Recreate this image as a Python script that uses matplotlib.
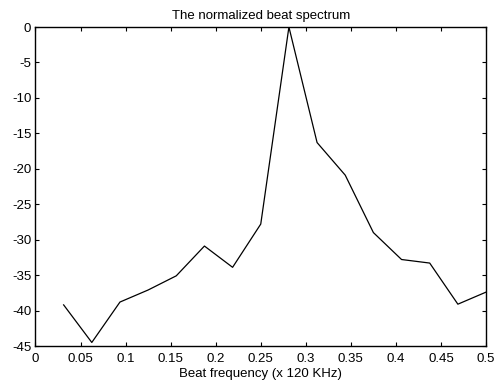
import matplotlib
matplotlib.use("Agg")
import matplotlib.pyplot as plt

x_vals = [0.03125, 0.0625, 0.09375, 0.125, 0.15625, 0.1875, 0.21875, 0.25,
          0.28125, 0.3125, 0.34375, 0.375, 0.40625, 0.4375, 0.46875, 0.5]
y_vals = [-39.2, -44.5, -38.8, -37.1, -35.1, -30.9, -33.9, -27.8,
          0.0, -16.3, -20.9, -29.0, -32.8, -33.3, -39.1, -37.4]
x_ticks = [0, 0.05, 0.1, 0.15, 0.2, 0.25, 0.3, 0.35, 0.4, 0.45, 0.5]
x_tick_labels = ["0", "0.05", "0.1", "0.15", "0.2", "0.25", "0.3", "0.35", "0.4", "0.45", "0.5"]
y_ticks = [-45, -40, -35, -30, -25, -20, -15, -10, -5, 0]
y_tick_labels = ["-45", "-40", "-35", "-30", "-25", "-20", "-15", "-10", "-5", "0"]

plt.rcParams['font.family'] = ['Liberation Sans', 'DejaVu Sans']

fig = plt.figure(figsize=(4.99, 3.83), dpi=100)
ax = fig.add_axes([0.0711, 0.0966, 0.9029, 0.8329])
ax.plot(x_vals, y_vals, color='black', linewidth=0.9)
ax.set_xlim(0, 0.5)
ax.set_ylim(-45, 0)
ax.set_xticks(x_ticks)
ax.set_xticklabels(x_tick_labels)
ax.set_yticks(y_ticks)
ax.set_yticklabels(y_tick_labels)
ax.tick_params(direction='in', top=True, right=True, length=3, width=0.8,
               labelsize=9.5)
ax.tick_params(axis='x', pad=5)
ax.tick_params(axis='y', pad=3)
for s in ax.spines.values():
    s.set_linewidth(1.0)
ax.set_title("The normalized beat spectrum", fontsize=9.5, pad=6)
ax.set_xlabel("Beat frequency (x 120 KHz)", fontsize=9.5, labelpad=2)
fig.savefig("out.png", dpi=100)
